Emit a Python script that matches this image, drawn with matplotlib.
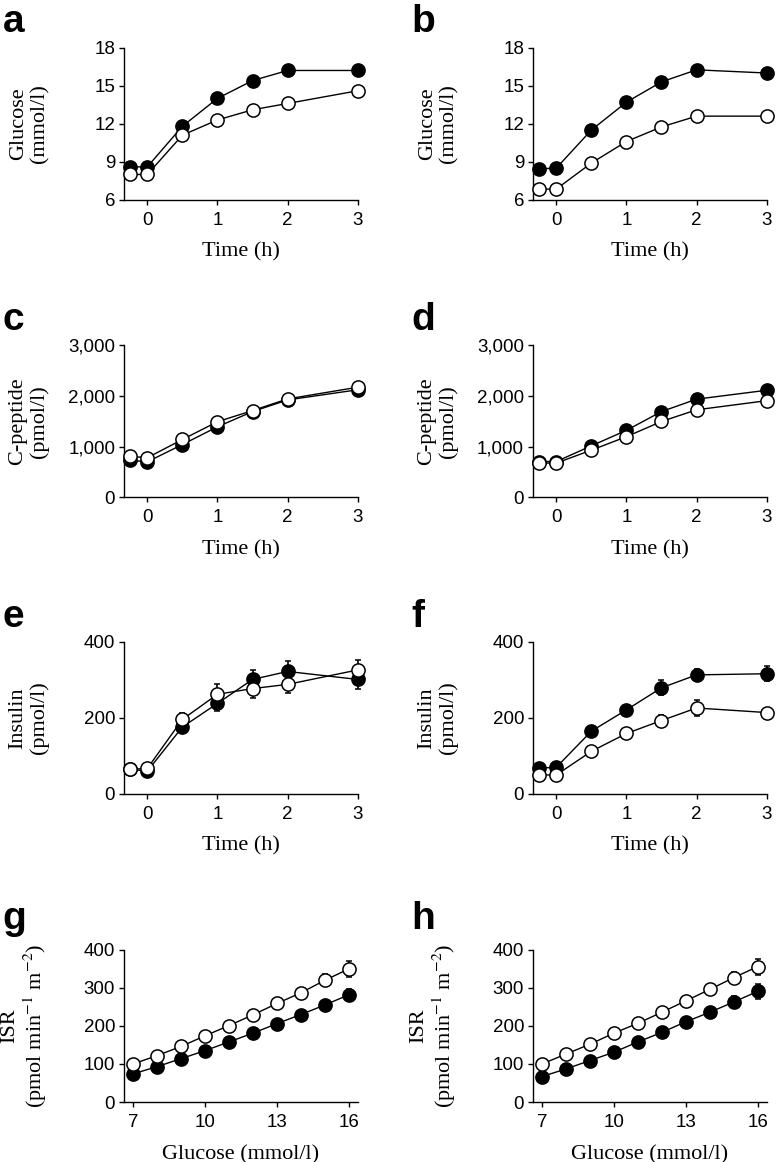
import matplotlib.pyplot as plt
from matplotlib.ticker import FuncFormatter

plt.rcParams['font.family'] = ['Liberation Sans', 'DejaVu Sans']
plt.rcParams['mathtext.fontset'] = 'stix'

# Time points (h)
time = [-0.25, 0, 0.5, 1, 1.5, 2, 3]

# Glucose (mmol/l)
glu_a_filled = [8.6, 8.6, 11.8, 14.0, 15.4, 16.2, 16.2]
glu_a_open = [8.0, 8.0, 11.1, 12.3, 13.1, 13.6, 14.6]
glu_b_filled = [8.45, 8.5, 11.5, 13.7, 15.3, 16.25, 16.0]
glu_b_open = [6.85, 6.85, 8.9, 10.6, 11.75, 12.6, 12.6]

# C-peptide (pmol/l)
cpep_c_filled = [730, 700, 1040, 1390, 1690, 1920, 2120]
cpep_c_open = [810, 780, 1140, 1490, 1710, 1940, 2170]
cpep_d_filled = [705, 705, 1015, 1320, 1690, 1935, 2110]
cpep_d_open = [675, 675, 930, 1195, 1495, 1725, 1905]

# Insulin (pmol/l)
ins_e_filled = [65, 60, 176, 238, 301, 322, 301]
ins_e_filled_err = [5, 5, 10, 20, 25, 28, 26]
ins_e_open = [65, 67, 196, 262, 277, 288, 326]
ins_e_open_err = [5, 5, 18, 28, 25, 22, 26]
ins_f_filled = [68, 70, 165, 221, 279, 313, 316]
ins_f_filled_err = [5, 5, 8, 10, 20, 16, 20]
ins_f_open = [50, 50, 112, 159, 193, 226, 214]
ins_f_open_err = [5, 5, 8, 8, 14, 20, 8]

# ISR vs glucose
isr_glucose = [7, 8, 9, 10, 11, 12, 13, 14, 15, 16]
isr_g_filled = [74, 93, 114, 135, 158, 181, 206, 230, 255, 282]
isr_g_filled_err = [4, 4, 4, 5, 5, 6, 7, 9, 12, 16]
isr_g_open = [100, 122, 146, 174, 201, 229, 259, 287, 320, 350]
isr_g_open_err = [4, 4, 4, 5, 5, 6, 8, 12, 16, 21]
isr_h_filled = [67, 87, 109, 131, 158, 183, 211, 236, 263, 291]
isr_h_filled_err = [4, 4, 4, 5, 5, 6, 8, 12, 16, 20]
isr_h_open = [100, 126, 152, 181, 207, 236, 266, 296, 327, 356]
isr_h_open_err = [4, 4, 4, 5, 5, 6, 8, 12, 16, 21]

fig = plt.figure(figsize=(7.76, 11.62), dpi=100)

col_left = [0.160, 0.687]
row_bottom = [0.828, 0.572, 0.3167, 0.0516]
w, h = 0.301, 0.131

serif = 'Liberation Serif'


def draw(ax, x, y_filled, y_open, err_filled=None, err_open=None):
    ax.errorbar(x, y_filled, yerr=err_filled, color='black', marker='o',
                markersize=9.5, markerfacecolor='black', markeredgecolor='black',
                markeredgewidth=1.1, linewidth=1.0, elinewidth=1.2, capsize=2,
                clip_on=False, zorder=3)
    ax.errorbar(x, y_open, yerr=err_open, color='black', marker='o',
                markersize=9.5, markerfacecolor='white', markeredgecolor='black',
                markeredgewidth=1.1, linewidth=1.0, elinewidth=1.2, capsize=2,
                clip_on=False, zorder=4)


def style(ax, letter, ylabel, xlabel, letter_y=1.10):
    for side in ['top', 'right']:
        ax.spines[side].set_visible(False)
    for side in ['left', 'bottom']:
        ax.spines[side].set_linewidth(1.0)
    ax.tick_params(axis='both', direction='out', length=3.5, width=1.0,
                   labelsize=13.5)
    ax.tick_params(axis='x', pad=5)
    ax.tick_params(axis='y', pad=3)
    ax.set_ylabel(ylabel, fontsize=16, family=serif, linespacing=1.15)
    ax.yaxis.set_label_coords(-0.32, 0.5)
    ax.set_xlabel(xlabel, fontsize=16, family=serif, labelpad=10)
    ax.text(-0.52, letter_y, letter, transform=ax.transAxes, fontsize=28,
            fontweight='bold', ha='left', va='baseline')


panels = []
for r in range(4):
    for c in range(2):
        panels.append(fig.add_axes([col_left[c], row_bottom[r], w, h]))

ax_a, ax_b, ax_c, ax_d, ax_e, ax_f, ax_g, ax_h = panels

draw(ax_a, time, glu_a_filled, glu_a_open)
draw(ax_b, time, glu_b_filled, glu_b_open)
draw(ax_c, time, cpep_c_filled, cpep_c_open)
draw(ax_d, time, cpep_d_filled, cpep_d_open)
draw(ax_e, time, ins_e_filled, ins_e_open, ins_e_filled_err, ins_e_open_err)
draw(ax_f, time, ins_f_filled, ins_f_open, ins_f_filled_err, ins_f_open_err)
draw(ax_g, isr_glucose, isr_g_filled, isr_g_open, isr_g_filled_err, isr_g_open_err)
draw(ax_h, isr_glucose, isr_h_filled, isr_h_open, isr_h_filled_err, isr_h_open_err)

comma = FuncFormatter(lambda v, p: f"{int(v):,}")

for ax, letter in [(ax_a, 'a'), (ax_b, 'b')]:
    ax.set_xlim(-0.33, 3.0)
    ax.set_xticks([0, 1, 2, 3])
    ax.set_ylim(6, 18)
    ax.set_yticks([6, 9, 12, 15, 18])
    style(ax, letter, 'Glucose\n(mmol/l)', 'Time (h)')

for ax, letter in [(ax_c, 'c'), (ax_d, 'd')]:
    ax.set_xlim(-0.33, 3.0)
    ax.set_xticks([0, 1, 2, 3])
    ax.set_ylim(0, 3000)
    ax.set_yticks([0, 1000, 2000, 3000])
    ax.yaxis.set_major_formatter(comma)
    style(ax, letter, 'C-peptide\n(pmol/l)', 'Time (h)')

for ax, letter in [(ax_e, 'e'), (ax_f, 'f')]:
    ax.set_xlim(-0.33, 3.0)
    ax.set_xticks([0, 1, 2, 3])
    ax.set_ylim(0, 400)
    ax.set_yticks([0, 200, 400])
    style(ax, letter, 'Insulin\n(pmol/l)', 'Time (h)')

for ax, letter in [(ax_g, 'g'), (ax_h, 'h')]:
    ax.set_xlim(6.63, 16.37)
    ax.set_xticks([7, 10, 13, 16])
    ax.set_ylim(0, 400)
    ax.set_yticks([0, 100, 200, 300, 400])
    style(ax, letter, 'ISR\n(pmol min$^{-1}$ m$^{-2}$)', 'Glucose (mmol/l)',
          letter_y=1.14)

fig.savefig('out.png', dpi=100)
